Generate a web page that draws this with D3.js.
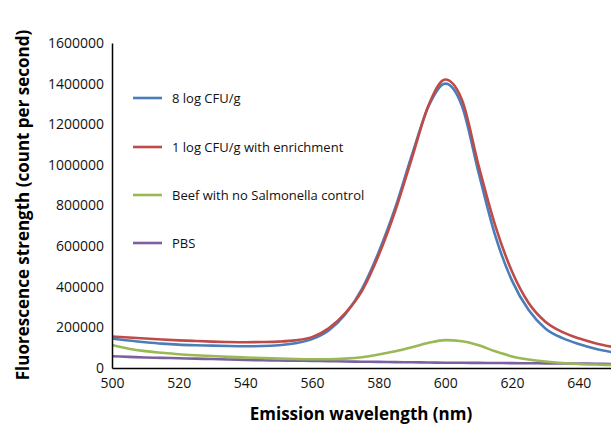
<!DOCTYPE html>
<html>
<head>
<meta charset="utf-8">
<script src="https://cdn.jsdelivr.net/npm/d3@7"></script>
<style>
  body { margin: 0; background: #fff; }
  svg { display: block; font-family: "Open Sans", sans-serif; }
</style>
</head>
<body>
<div id="root"></div>
<script>
const wavelengths = [500, 505, 510, 515, 520, 525, 530, 535, 540, 545, 550, 555, 560, 565, 570, 575,
  580, 585, 590, 595, 600, 605, 610, 615, 620, 625, 630, 635, 640, 645, 650];

const blue8log = [145000, 135000, 127000, 120000, 115000, 112000, 110000, 108000, 107000, 108000,
  112000, 122000, 142000, 185000, 265000, 390000, 570000, 790000, 1050000, 1290000, 1400000,
  1290000, 960000, 650000, 430000, 285000, 195000, 148000, 118000, 95000, 78000];

const red1logEnrich = [155000, 150000, 145000, 140000, 136000, 133000, 130000, 128000, 127000, 128000,
  130000, 136000, 152000, 195000, 270000, 380000, 555000, 775000, 1035000, 1295000, 1420000,
  1320000, 995000, 700000, 475000, 320000, 228000, 178000, 146000, 122000, 104000];

const greenBeef = [113000, 95000, 83000, 75000, 68000, 63000, 59000, 55000, 52000, 49000,
  46000, 44000, 43000, 43000, 46000, 53000, 66000, 82000, 102000, 124000, 137000,
  132000, 112000, 82000, 57000, 42000, 32000, 25000, 20000, 17000, 15000];

const purplePBS = [58000, 55000, 52000, 50000, 48000, 46000, 44000, 42000, 40000, 38000,
  37000, 36000, 35000, 34000, 32000, 31000, 30000, 29000, 28000, 27000, 26000,
  25500, 25000, 24500, 24000, 23500, 23000, 22500, 22000, 21000, 20000];

const seriesNames = ["8 log CFU/g", "1 log CFU/g with enrichment", "Beef with no Salmonella control", "PBS"];
const seriesColors = ["#4a7ebb", "#be4b48", "#98b954", "#7d60a0"];
const seriesValues = [blue8log, red1logEnrich, greenBeef, purplePBS];

const xTicks = [500, 520, 540, 560, 580, 600, 620, 640];
const yTicks = [0, 200000, 400000, 600000, 800000, 1000000, 1200000, 1400000, 1600000];

const width = 611;
const height = 426;

const svg = d3.select("#root")
  .append("svg")
  .attr("width", width)
  .attr("height", height);

const x = d3.scaleLinear().domain([500, 650]).range([112, 612]);
const y = d3.scaleLinear().domain([0, 1600000]).range([368, 43]);

// Lines (drawn first so axes sit on top)
const line = d3.line()
  .x((d, i) => x(wavelengths[i]))
  .y((d) => y(d))
  .curve(d3.curveMonotoneX);

// draw purple, green, blue, red in that order (red on top of blue)
[3, 2, 0, 1].forEach((k) => {
  svg.append("path")
    .datum(seriesValues[k])
    .attr("fill", "none")
    .attr("stroke", seriesColors[k])
    .attr("stroke-width", 2.6)
    .attr("d", line);
});

// Axes
const xAxis = d3.axisBottom(x).tickValues(xTicks).tickSize(0).tickPadding(10);
const yAxis = d3.axisLeft(y).tickValues(yTicks).tickSize(0).tickPadding(8).tickFormat(d3.format("d"));

const gx = svg.append("g")
  .attr("transform", "translate(0,368)")
  .call(xAxis);
const gy = svg.append("g")
  .attr("transform", "translate(112,0)")
  .call(yAxis);

[gx, gy].forEach((g) => {
  g.select(".domain").attr("stroke", "#000").attr("stroke-width", 1.5);
  g.selectAll("text")
    .attr("font-family", "'Open Sans', sans-serif")
    .attr("font-size", 14)
    .attr("fill", "#111");
});

// Axis titles
svg.append("text")
  .attr("x", 361)
  .attr("y", 420)
  .attr("text-anchor", "middle")
  .attr("font-size", 17)
  .attr("font-weight", "bold")
  .attr("fill", "#000")
  .text("Emission wavelength (nm)");

svg.append("text")
  .attr("transform", "translate(29,205) rotate(-90)")
  .attr("text-anchor", "middle")
  .attr("font-size", 17)
  .attr("font-weight", "bold")
  .attr("fill", "#000")
  .text("Fluorescence strength (count per second)");

// Legend
const legendY = [98, 147, 195, 243];
seriesNames.forEach((name, i) => {
  svg.append("line")
    .attr("x1", 133)
    .attr("x2", 162)
    .attr("y1", legendY[i])
    .attr("y2", legendY[i])
    .attr("stroke", seriesColors[i])
    .attr("stroke-width", 2.6);
  svg.append("text")
    .attr("x", 172)
    .attr("y", legendY[i])
    .attr("dy", "0.35em")
    .attr("font-size", 13)
    .attr("fill", "#111")
    .text(name);
});
</script>
</body>
</html>
